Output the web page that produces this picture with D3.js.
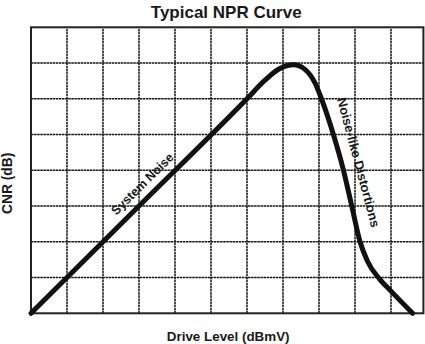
<!DOCTYPE html>
<html>
<head>
<meta charset="utf-8">
<script src="https://cdn.jsdelivr.net/npm/d3@7"></script>
<style>
  html, body { margin: 0; padding: 0; background: #fff; }
  svg { display: block; }
  text { font-family: "Liberation Sans", Arial, Helvetica, sans-serif; font-weight: bold; fill: #1a1a1a; }
</style>
</head>
<body>
<svg id="chart" width="425" height="344"></svg>
<script>
// Grid divisions (unitless: the chart shows a qualitative curve)
const xTicks = [1, 2, 3, 4, 5, 6, 7, 8, 9, 10];
const yTicks = [1, 2, 3, 4, 5, 6, 7];
const xMax = 10.9;
const yMax = 8;

// NPR curve: drive level vs carrier-to-noise ratio
const driveLevel = [0, 3, 6.0, 6.5, 6.9, 7.3, 7.6, 7.9, 8.05, 8.4, 8.68, 8.91, 9.14, 9.35, 9.69, 10.0, 10.6];
const cnr        = [0, 3, 6.0, 6.52, 6.84, 6.95, 6.83, 6.42, 6.05, 5.0, 4.0, 3.0, 2.0, 1.45, 0.95, 0.62, 0];

// Curve annotations
const labels = ["System Noise", "Noise-like Distortions"];
const labelX = [3.09, 9.1];
const labelY = [3.62, 4.22];
const labelAngle = [-44.8, 75];

const svg = d3.select("#chart");
const cellW = 36;

const x = d3.scaleLinear().domain([0, xMax]).range([31, 31 + cellW * xMax]);
const y = d3.scaleLinear().domain([0, yMax]).range([313.3, 27.3]);

// Grid lines
const grid = svg.append("g")
  .attr("stroke", "#151515")
  .attr("stroke-width", 1.5)
  .attr("stroke-dasharray", "2.5,0.6");

grid.selectAll("line.v").data(xTicks).join("line")
  .attr("class", "v")
  .attr("x1", d => x(d)).attr("x2", d => x(d))
  .attr("y1", y(0)).attr("y2", y(yMax));

grid.selectAll("line.h").data(yTicks).join("line")
  .attr("class", "h")
  .attr("x1", x(0)).attr("x2", x(xMax))
  .attr("y1", d => y(d)).attr("y2", d => y(d));

// Frame
svg.append("rect")
  .attr("x", x(0)).attr("y", y(yMax))
  .attr("width", x(xMax) - x(0)).attr("height", y(0) - y(yMax))
  .attr("fill", "none").attr("stroke", "#222").attr("stroke-width", 2);

// Curve
const line = d3.line()
  .x((d, i) => x(driveLevel[i]))
  .y((d, i) => y(cnr[i]))
  .curve(d3.curveMonotoneX);

svg.append("path")
  .datum(driveLevel)
  .attr("d", line)
  .attr("fill", "none")
  .attr("stroke", "#111")
  .attr("stroke-width", 5)
  .attr("stroke-linecap", "round")
  .attr("stroke-linejoin", "round");

// Curve labels
labels.forEach((t, i) => {
  svg.append("text")
    .attr("transform", `translate(${x(labelX[i])},${y(labelY[i])}) rotate(${labelAngle[i]})`)
    .attr("text-anchor", "middle")
    .attr("dy", "0.35em")
    .attr("font-size", i === 0 ? 12.5 : 13)
    .text(t);
});

// Title and axis titles
svg.append("text")
  .attr("x", (x(0) + x(xMax)) / 2 - 1).attr("y", 18)
  .attr("text-anchor", "middle")
  .attr("font-size", 17)
  .text("Typical NPR Curve");

svg.append("text")
  .attr("x", (x(0) + x(xMax)) / 2 + 1).attr("y", 340.5)
  .attr("text-anchor", "middle")
  .attr("font-size", 13.4)
  .text("Drive Level (dBmV)");

svg.append("text")
  .attr("transform", `translate(11.7,${(y(0) + y(yMax)) / 2 + 13}) rotate(-90)`)
  .attr("text-anchor", "middle")
  .attr("font-size", 13.8)
  .text("CNR (dB)");
</script>
</body>
</html>
